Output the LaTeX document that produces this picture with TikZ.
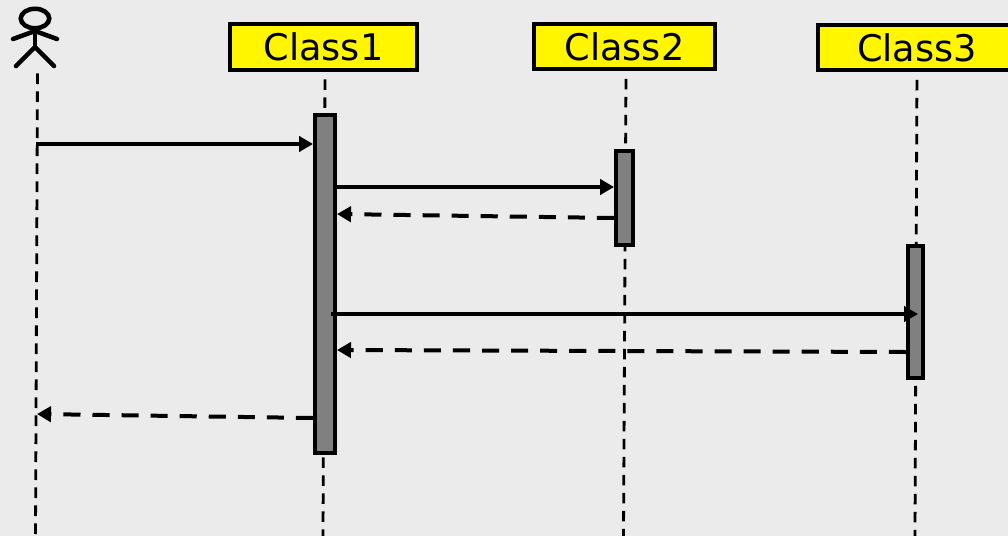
\documentclass[tikz,border=0pt]{standalone}
\usepackage{fontspec}
\setmainfont{DejaVu Sans}
\usetikzlibrary{arrows.meta,shapes.geometric,positioning}
\definecolor{panel grey}{HTML}{EBEBEB}
\definecolor{class yellow}{HTML}{FFF600}
\definecolor{bar grey}{HTML}{808080}

\begin{document}
\begin{tikzpicture}
    [x=0.75pt, y=-0.75pt,
    on grid,
    class box/.style = {shape=rectangle, draw=black, fill=class yellow, line width=3pt,
      minimum height=34.2pt, inner sep=0pt, font=\fontsize{27.5}{30}\selectfont},
    active bar/.style = {shape=rectangle, draw=black, fill=bar grey, line width=3pt, inner sep=0pt},
    lifeline/.style = {line width=2.1pt, dash pattern=on 7.9pt off 5.6pt, dash phase=7.9pt},
    actor limb/.style = {line width=3.4pt, line cap=round},
    post/.style = {-{Triangle[length=10.5pt,width=11.5pt]}, line width=3pt},
    reply/.style = {post, dash pattern=on 12.8pt off 9pt}]

    \path [fill=panel grey, use as bounding box] (0,0) rectangle (1008,536);

    \node [class box, minimum width=140.25pt] (class1) at (323.5,47) {Class1};
    \node [class box, minimum width=135.75pt, right=225.75pt of class1, yshift=0.3pt] (class2) {Class2};
    \node [class box, minimum width=148.5pt, right=445.1pt of class1, yshift=-0.4pt] (class3) {Class3};

    % the actor
    \node [shape=ellipse, draw=black, line width=3.4pt, minimum width=21.4pt, minimum height=14.6pt, inner sep=0pt] (head) at (35,18.5) {};
    \coordinate (hip) at (35,47);
    \coordinate (hand l) at (13,39);
    \coordinate (hand r) at (57,39);
    \coordinate (foot l) at (16,66);
    \coordinate (foot r) at (54,66);
    \draw [actor limb] (head.south) -- (hip);
    \draw [actor limb] (hand l) -- (35,31) -- (hand r);
    \draw [actor limb] (foot l) -- (hip) -- (foot r);

    % lifelines
    \coordinate (actor top) at (37.5,66);
    \coordinate (actor end) at (35.5,536);
    \coordinate (class1 end) at (323,536);
    \coordinate (class2 end) at (623.5,536);
    \coordinate (class3 end) at (915,536);
    \draw [lifeline] (actor top) -- (actor end);
    \draw [lifeline] (class1.south -| 325,0) -- (class1 end);
    \draw [lifeline] (class2.south -| 626,0) -- (class2 end);
    \draw [lifeline] (class3.south) -- (class3 end);

    \node [active bar, minimum width=15pt, minimum height=253.5pt] (bar1) at (325,284) {};
    \node [active bar, minimum width=12.75pt, minimum height=70.5pt] (bar2) at (624.5,198) {};
    \node [active bar, minimum width=11.25pt, minimum height=99pt] (bar3) at (915.5,312) {};

    % messages
    \coordinate (call1) at (36,144);
    \coordinate (call2) at (0,187);
    \coordinate (back2a) at (0,218);
    \coordinate (back2b) at (0,214);
    \coordinate (call3a) at (331,314);
    \coordinate (call3b) at (918,314);
    \coordinate (back3a) at (0,352);
    \coordinate (back3b) at (0,350);
    \coordinate (back1a) at (0,418);
    \coordinate (back1b) at (37,414);

    \draw [post] (call1) -- (bar1.west |- call1);
    \draw [post] (bar1.east |- call2) -- (bar2.west |- call2);
    \draw [reply] (bar2.west |- back2a) -- (bar1.east |- back2b);
    \draw [post] (call3a) -- (call3b);
    \draw [reply] (bar3.west |- back3a) -- (bar1.east |- back3b);
    \draw [reply] (bar1.west |- back1a) -- (back1b);
\end{tikzpicture}
\end{document}
